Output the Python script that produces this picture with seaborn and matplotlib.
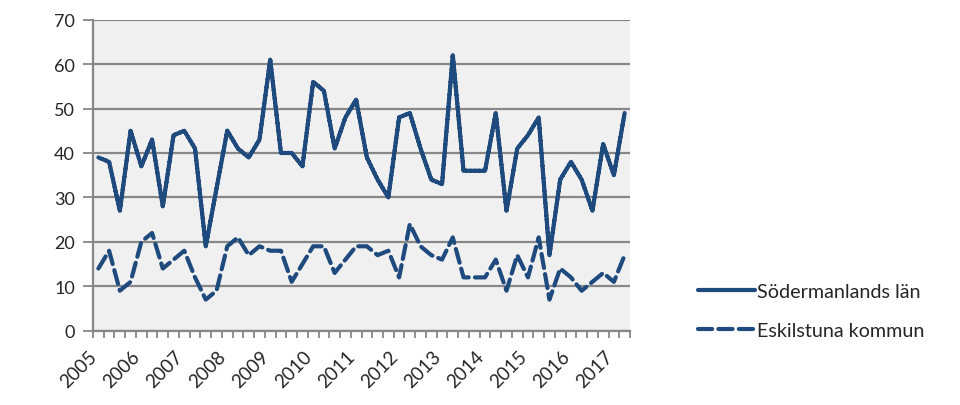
import numpy as np
import pandas as pd
import matplotlib
matplotlib.use("Agg")
import matplotlib.pyplot as plt
import seaborn as sns
from matplotlib.ticker import FixedLocator

years = [str(y) for y in range(2005, 2018)]
sodermanland = [39, 38, 27, 45, 37, 43, 28, 44, 45, 41,
                19, 32, 45, 41, 39, 43, 61, 40, 40, 37,
                56, 54, 41, 48, 52, 39, 34, 30, 48, 49,
                41, 34, 33, 62, 36, 36, 36, 49, 27, 41,
                44, 48, 17, 34, 38, 34, 27, 42, 35, 49]
eskilstuna = [14, 18, 9, 11, 20, 22, 14, 16, 18, 12,
              7, 9, 19, 21, 17, 19, 18, 18, 11, 15,
              19, 19, 13, 16, 19, 19, 17, 18, 12, 24,
              19, 17, 16, 21, 12, 12, 12, 16, 9, 17,
              12, 21, 7, 14, 12, 9, 11, 13, 11, 17]
series_names = ["Södermanlands län", "Eskilstuna kommun"]

n = len(sodermanland)
df = pd.DataFrame({
    "q": list(range(n)) * 2,
    "value": sodermanland + eskilstuna,
    "series": [series_names[0]] * n + [series_names[1]] * n,
})

sns.set_theme(style="white")
plt.rcParams["font.family"] = ["Lato", "DejaVu Sans"]

fig = plt.figure(figsize=(9.6, 4.06), dpi=100)
ax = fig.add_axes([93 / 960, 1 - 331.7 / 406, (630 - 93) / 960, (331.7 - 20.7) / 406])

color = "#1F4A7E"
sns.lineplot(data=df, x="q", y="value", hue="series", style="series",
             palette=[color, color], dashes=[(1, 0), (3.4, 1.5)],
             linewidth=3, ax=ax, legend=True)
for line in ax.get_lines():
    line.set_solid_capstyle("round")
    line.set_dash_capstyle("round")

ax.set_facecolor("#F0F0F0")

label_pos = list(range(0, n, 4))
ax.set_xticks(label_pos)
ax.set_xticklabels(years[:len(label_pos)], rotation=45, ha="right", va="baseline",
                   rotation_mode="anchor", fontsize=13.5)
ax.xaxis.set_minor_locator(FixedLocator(np.arange(-0.5, n, 1)))
ax.set_xlim(-0.5, n - 0.5)
ax.set_ylim(0, 70)
ax.set_yticks(range(0, 71, 10))
ax.yaxis.grid(True, color="#878787", linewidth=1.6)
ax.xaxis.grid(False)
ax.set_axisbelow(True)

ax.tick_params(axis="x", which="major", length=0, pad=19)
ax.tick_params(axis="x", which="minor", length=5, width=1.3, color="#878787", bottom=True)
ax.tick_params(axis="y", which="major", length=7, width=1.3, color="#878787",
               labelsize=13, pad=6, left=True)

for s in ["top", "right"]:
    ax.spines[s].set_visible(False)
for s in ["left", "bottom"]:
    ax.spines[s].set_color("#878787")
    ax.spines[s].set_linewidth(1.6)

ax.set_xlabel("")
ax.set_ylabel("")

handles, labels = ax.get_legend_handles_labels()
ax.legend(handles, labels, loc="center left", bbox_to_anchor=(688 / 960, 1 - 312 / 406),
          bbox_transform=fig.transFigure, frameon=False, fontsize=14.2,
          handlelength=2.9, handletextpad=0.12, labelspacing=1.15, borderpad=0)

fig.savefig("out.png", dpi=100)
